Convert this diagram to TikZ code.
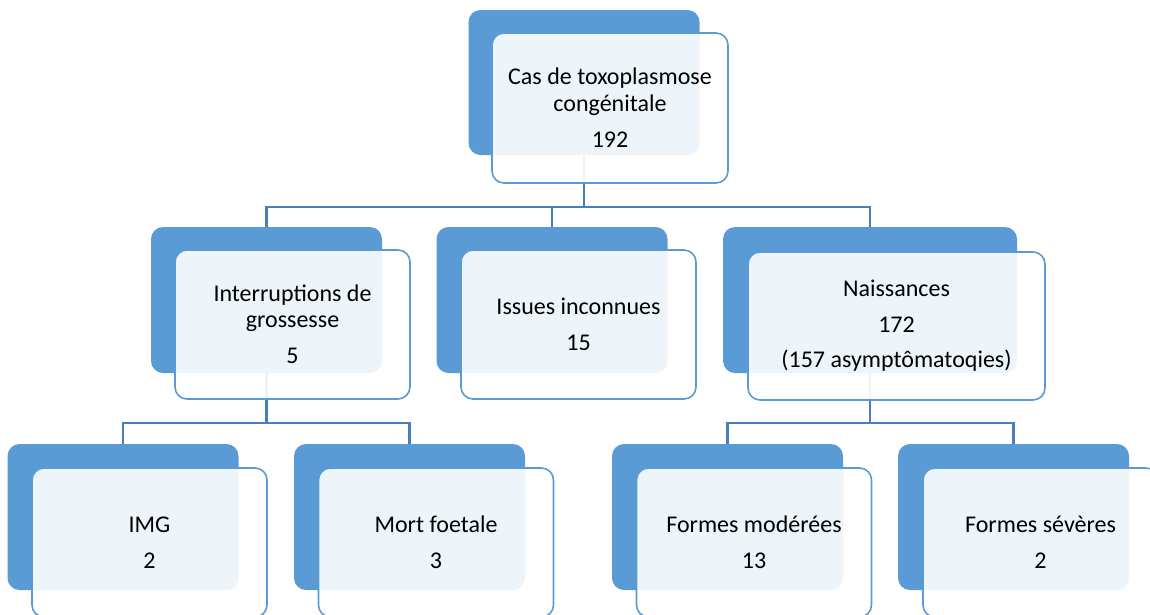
\documentclass[tikz,border=0pt]{standalone}
\usepackage{fontspec}
\setmainfont{Carlito}
\definecolor{boxblue}{HTML}{5B9BD5}
\definecolor{linkblue}{HTML}{4A7EBB}
\tikzset{
  backbox/.style={fill=boxblue, rounded corners=12pt, minimum width=231pt, minimum height=146pt, inner sep=0pt},
  frontbox/.style={draw=boxblue, line width=1.6pt, fill=white, fill opacity=0.9, text opacity=1,
    rounded corners=12pt, minimum width=235pt, minimum height=149pt, inner sep=0pt,
    align=center, font=\fontsize{24}{26}\selectfont},
  link/.style={draw=linkblue, line width=2.2pt}
}
\begin{document}
\begin{tikzpicture}[x=1pt, y=-1pt]
        \useasboundingbox (0,0) rectangle (1150,614);
        % back boxes
        \node[backbox, minimum height=145pt] (cas) at (584, 82.5) {};
        \node[backbox] (interr) at (266.5, 300) {};
        \node[backbox] (issues) at (552, 300) {};
        \node[backbox, minimum width=294pt] (naiss) at (870, 300) {};
        \node[backbox] (img) at (123, 517) {};
        \node[backbox] (mort) at (409.5, 517) {};
        \node[backbox] (moder) at (727.5, 517) {};
        \node[backbox] (sever) at (1013.5, 517) {};
        % connectors
        \coordinate (bus1) at (0, 207);
        \coordinate (bus2) at (0, 423);
        \draw[link] (cas.south) -- (cas.south |- bus1);
        \draw[link] (interr.north) |- (naiss.north |- bus1) -- (naiss.north);
        \draw[link] (issues.north) -- (issues.north |- bus1);
        \draw[link] (interr.south) -- (interr.south |- bus2);
        \draw[link] (img.north) |- (mort.north |- bus2) -- (mort.north);
        \draw[link] (naiss.south) -- (naiss.south |- bus2);
        \draw[link] (moder.north) |- (sever.north |- bus2) -- (sever.north);
        % front boxes
        \node[frontbox, minimum width=236pt, minimum height=150pt] (casT) at (610, 108) {Cas de toxoplasmose\\[1pt]congénitale\\[10pt]192};
        \node[frontbox] (interrT) at (292.5, 324.5) {Interruptions de\\grossesse\\[10pt]5};
        \node[frontbox] (issuesT) at (578.5, 324.5) {Issues inconnues\\[10pt]15};
        \node[frontbox, minimum width=297pt, minimum height=148pt] (naissT) at (896.5, 326) {Naissances\\[10pt]172\\[9pt](157 asymptômatoqies)};
        \node[frontbox] (imgT) at (149.5, 542.5) {IMG\\[10pt]2};
        \node[frontbox] (mortT) at (436, 542.5) {Mort foetale\\[10pt]3};
        \node[frontbox] (moderT) at (754, 542.5) {Formes modérées\\[10pt]13};
        \node[frontbox] (severT) at (1040.5, 542.5) {Formes sévères\\[10pt]2};
\end{tikzpicture}
\end{document}
